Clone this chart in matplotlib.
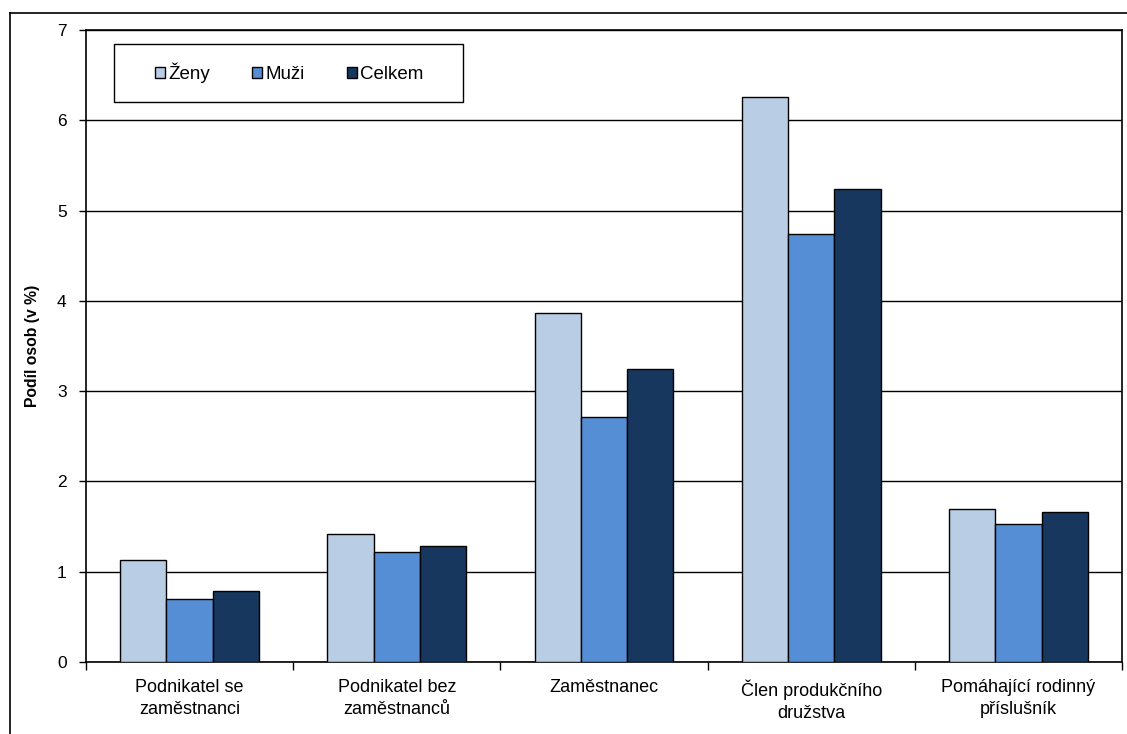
import matplotlib
matplotlib.use("Agg")
import matplotlib.pyplot as plt
from matplotlib.lines import Line2D
from matplotlib.patches import Rectangle
import numpy as np

plt.rcParams['font.family'] = ['Liberation Sans', 'DejaVu Sans']

categories = ["Podnikatel se\nzaměstnanci", "Podnikatel bez\nzaměstnanců", "Zaměstnanec",
              "Člen produkčního\ndružstva", "Pomáhající rodinný\npříslušník"]
series_names = ["Ženy", "Muži", "Celkem"]
zeny = [1.13, 1.42, 3.86, 6.26, 1.70]
muzi = [0.70, 1.22, 2.71, 4.74, 1.53]
celkem = [0.79, 1.28, 3.24, 5.24, 1.66]
yticks = [0, 1, 2, 3, 4, 5, 6, 7]

colors = ["#B9CDE5", "#558ED5", "#17375E"]

W, H = 1127, 734
fig = plt.figure(figsize=(W / 100, H / 100), dpi=100)
ax = fig.add_axes([86 / W, 1 - 662 / H, (1122 - 86) / W, (662 - 30) / H])

x = np.arange(len(categories))
bw = 0.223
handles = []
for i, (vals, col) in enumerate(zip([zeny, muzi, celkem], colors)):
    b = ax.bar(x + (i - 1) * bw, vals, width=bw, color=col, edgecolor="black",
               linewidth=1.0, zorder=3, label=series_names[i])
    handles.append(b)

ax.set_xlim(-0.5, len(categories) - 0.5)
ax.set_ylim(0, 7)
ax.set_yticks(yticks)
ax.set_yticklabels([str(t) for t in yticks], fontsize=12.5)
ax.yaxis.grid(True, color="black", linewidth=1.0, zorder=1)
ax.tick_params(axis="y", direction="out", length=5, width=1, pad=9)

# category separators on the x axis
ax.set_xticks(np.arange(len(categories) + 1) - 0.5)
ax.set_xticklabels([])
ax.tick_params(axis="x", direction="out", length=6, width=1)
for xi, lab in zip(x, categories):
    ax.text(xi, -0.19, lab, ha="center", va="top", fontsize=13,
            linespacing=1.38, transform=ax.transData)

for s in ax.spines.values():
    s.set_color("black")
    s.set_linewidth(1.2)

ax.set_ylabel("Podíl osob (v %)", fontsize=11.3, fontweight="bold", labelpad=12)

# legend box drawn separately, entries placed inside it
fig.add_artist(Rectangle((114 / W, 1 - 101.5 / H), (463 - 114) / W, (101.5 - 44) / H,
                         transform=fig.transFigure, facecolor="white", edgecolor="black",
                         linewidth=1.0, zorder=5))
leg = fig.legend(handles=handles, labels=series_names, loc="center left",
                 bbox_to_anchor=(155 / W, 1 - 73 / H), ncol=3, frameon=False,
                 fontsize=13.5, handlelength=0.55, handleheight=0.55,
                 handletextpad=0.15, columnspacing=2.25, borderpad=0, borderaxespad=0)
leg.set_zorder(6)

# outer frame lines
fig.add_artist(Line2D([10 / W, 1.0], [1 - 12.5 / H, 1 - 12.5 / H], color="black", linewidth=1.2,
                      transform=fig.transFigure))
fig.add_artist(Line2D([10 / W, 10 / W], [0, 1 - 12.5 / H], color="black", linewidth=1.2,
                      transform=fig.transFigure))

fig.savefig("out.png", dpi=100)
